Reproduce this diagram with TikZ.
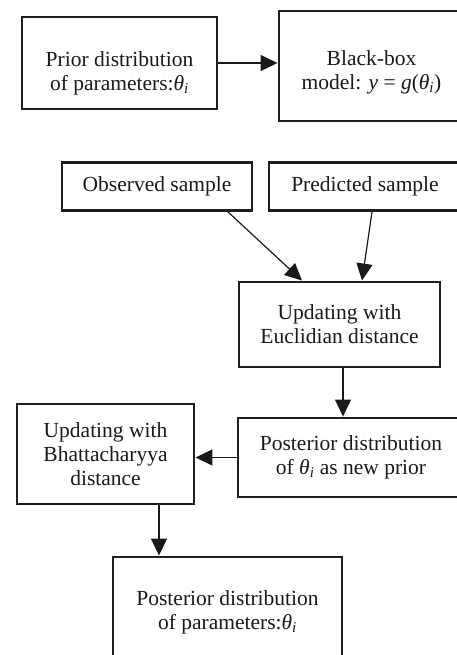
\documentclass[tikz,border=0pt]{standalone}
\usepackage{fontspec}
\setmainfont{Liberation Serif}
\usetikzlibrary{arrows.meta,calc}
\newcommand{\thi}{\textit{θ}\textsubscript{\textit{i}}}
\begin{document}
\begin{tikzpicture}[x=1pt,y=-1pt,
  box/.style={draw=black!88, line width=2.9pt, inner sep=0pt, align=center,
    font=\fontsize{21.5}{24}\selectfont, text=black!90},
  txt/.style={align=center, font=\fontsize{21.5}{24}\selectfont, text=black!90, inner sep=0pt},
  link/.style={-{Triangle[length=17pt,width=16pt]}, line width=1.2pt, draw=black!90},
]
\useasboundingbox (0,0) rectangle (457,655);
\clip (0,0) rectangle (457,655);

\node[box, minimum width=195pt, minimum height=92pt,
  label={[txt,yshift=-10pt]center:Prior distribution\\of parameters:\thi}] (prior) at (119.5,63) {};
\node[box, minimum width=185pt, minimum height=110pt,
  label={[txt,yshift=-6pt]center:Black-box\\model: \textit{y} = \textit{g}(\thi)}] (model) at (371.5,66) {};

\node[box, minimum width=190pt, minimum height=48pt] (obs) at (157,186.5) {Observed sample};
\node[box, minimum width=192pt, minimum height=48pt] (pred) at (365,186.5) {Predicted sample};

\node[box, minimum width=201pt, minimum height=85pt] (eucl) at (339.5,324.5) {Updating with\\Euclidian distance};
\node[box, minimum width=226pt, minimum height=79pt] (post) at (351,457.5) {Posterior distribution\\of \thi\ as new prior};
\node[box, minimum width=177pt, minimum height=100pt] (bhat) at (105.5,454) {Updating with\\Bhattacharyya\\distance};
\node[box, minimum width=229pt, minimum height=110pt] (final) at (227.5,612) {Posterior distribution\\of parameters:\thi};

\draw[link] (prior.east) -- (prior.east -| model.west);
\draw[link] ($(obs.south)+(71,0)$) -- ($(eucl.north)+(-37.5,0)$);
\draw[link] ($(pred.south)+(7,0)$) -- ($(eucl.north)+(22.5,0)$);
\coordinate (e1) at ($(eucl.south)+(3.5,0)$);
\draw[link] (e1) -- (e1 |- post.north);
\draw[link] (post.west) -- (post.west -| bhat.east);
\coordinate (b1) at ($(bhat.south)+(53.5,0)$);
\draw[link] (b1) -- (b1 |- final.north);
\end{tikzpicture}
\end{document}
